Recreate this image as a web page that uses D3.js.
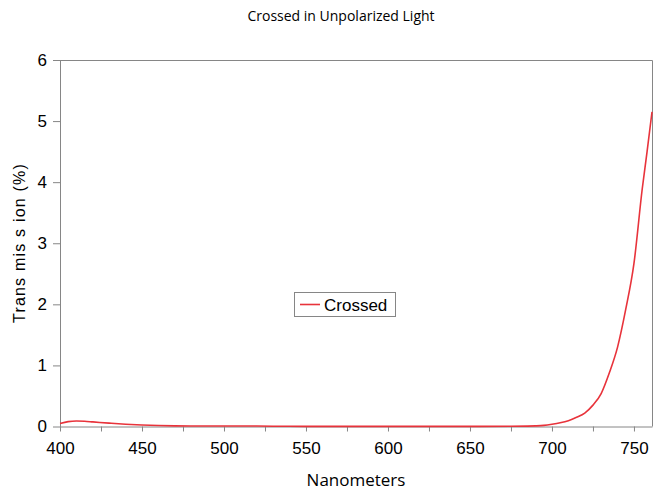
<!DOCTYPE html>
<html>
<head>
<meta charset="utf-8">
<script src="https://cdn.jsdelivr.net/npm/d3@7"></script>
<style>
  html, body { margin: 0; padding: 0; background: #fff; }
  svg { display: block; }
</style>
</head>
<body>
<svg id="chart" width="662" height="490"></svg>
<script>
// ---- data ----
const wavelengths = [400, 405, 410, 415, 420, 430, 440, 450, 460, 470, 480, 490, 500, 510, 520, 530, 540, 550, 575, 600, 625, 650, 675, 685, 690, 695, 700, 705, 710, 715, 720, 725, 730, 735, 740, 745, 750, 755, 758, 761];
const crossed = [0.05, 0.08, 0.09, 0.085, 0.075, 0.055, 0.037, 0.024, 0.016, 0.011, 0.009, 0.008, 0.008, 0.008, 0.007, 0.005, 0.003, 0.002, 0.002, 0.002, 0.002, 0.002, 0.003, 0.006, 0.01, 0.018, 0.036, 0.06, 0.095, 0.15, 0.22, 0.35, 0.54, 0.88, 1.3, 1.92, 2.67, 3.88, 4.5, 5.15];
const xTicks = [400, 450, 500, 550, 600, 650, 700, 750];
const xMinorTicks = [425, 475, 525, 575, 625, 675, 725];
const yTicks = [0, 1, 2, 3, 4, 5, 6];
const seriesName = "Crossed";
const titleText = "Crossed in Unpolarized Light";
const xLabel = "Nanometers";
const yLabel = "Trans mis s ion (%)";

// ---- layout ----
const svg = d3.select("#chart");
const M = { left: 60, right: 652, top: 60, bottom: 426.5 };
const axisColor = "#868686";
const lineColor = "#e8333b";

const x = d3.scaleLinear().domain([400, 761]).range([M.left, M.right]);
const y = d3.scaleLinear().domain([0, 6]).range([M.bottom, M.top]);

// frame (top & right)
svg.append("path")
  .attr("d", `M${M.left},${M.top + 0.5}H${M.right + 0.5}V${M.bottom}`)
  .attr("fill", "none").attr("stroke", axisColor).attr("stroke-width", 1);

// y axis
const yAxis = svg.append("g")
  .attr("transform", `translate(${M.left},0)`)
  .call(d3.axisLeft(y).tickValues(yTicks).tickSize(7).tickPadding(6).tickSizeOuter(0).tickFormat(d3.format("d")));
yAxis.selectAll("path, line").attr("stroke", axisColor);
yAxis.selectAll("text").attr("font-family", "Liberation Sans, Arial, sans-serif").attr("font-size", 17).attr("fill", "#000");

// x axis
const xAxis = svg.append("g")
  .attr("transform", `translate(0,${M.bottom})`)
  .call(d3.axisBottom(x).tickValues(xTicks).tickSize(5).tickPadding(10).tickSizeOuter(0).tickFormat(d3.format("d")));
xAxis.selectAll("path, line").attr("stroke", axisColor);
xAxis.selectAll("text").attr("font-family", "Liberation Sans, Arial, sans-serif").attr("font-size", 17).attr("fill", "#000");
svg.append("g")
  .attr("transform", `translate(0,${M.bottom})`)
  .selectAll("line").data(xMinorTicks).join("line")
  .attr("x1", d => x(d) + 0.5).attr("x2", d => x(d) + 0.5)
  .attr("y1", 0).attr("y2", 5)
  .attr("stroke", axisColor);

// line
const data = wavelengths.map((w, i) => ({ w, v: crossed[i] }));
svg.append("path")
  .datum(data)
  .attr("fill", "none")
  .attr("stroke", lineColor)
  .attr("stroke-width", 1.6)
  .attr("d", d3.line().x(d => x(d.w)).y(d => y(d.v)).curve(d3.curveMonotoneX));

// title
svg.append("text")
  .attr("x", 341).attr("y", 21)
  .attr("text-anchor", "middle")
  .attr("font-family", "Open Sans, sans-serif")
  .attr("font-size", 14)
  .attr("fill", "#000")
  .text(titleText);

// x label
svg.append("text")
  .attr("x", 356).attr("y", 486)
  .attr("text-anchor", "middle")
  .attr("font-family", "Open Sans, sans-serif")
  .attr("font-size", 17)
  .attr("fill", "#000")
  .text(xLabel);

// y label
svg.append("text")
  .attr("transform", "translate(25,243) rotate(-90)")
  .attr("text-anchor", "middle")
  .attr("font-family", "Liberation Sans, Arial, sans-serif")
  .attr("font-size", 16)
  .attr("letter-spacing", 1.2)
  .attr("fill", "#000")
  .text(yLabel);

// legend
const lg = svg.append("g");
lg.append("rect")
  .attr("x", 294.5).attr("y", 292.5).attr("width", 101).attr("height", 24)
  .attr("fill", "#fff").attr("stroke", axisColor).attr("stroke-width", 1);
lg.append("line")
  .attr("x1", 300).attr("x2", 320).attr("y1", 304.5).attr("y2", 304.5)
  .attr("stroke", lineColor).attr("stroke-width", 1.6);
lg.append("text")
  .attr("x", 324).attr("y", 311)
  .attr("font-family", "Liberation Sans, Arial, sans-serif")
  .attr("font-size", 17)
  .attr("fill", "#000")
  .text(seriesName);
</script>
</body>
</html>
